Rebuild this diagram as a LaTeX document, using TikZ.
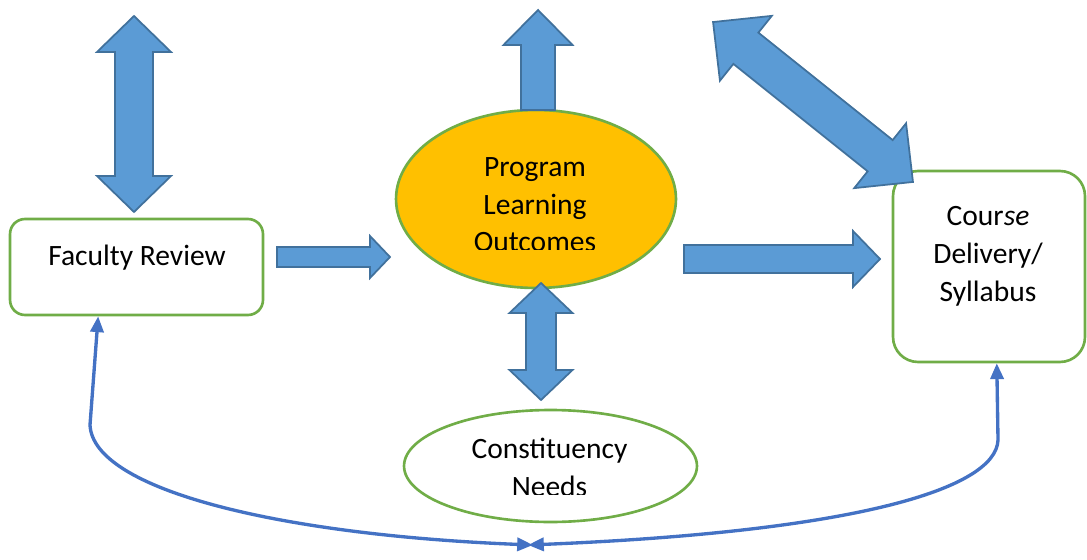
\documentclass[tikz,border=0pt]{standalone}
\usepackage{fontspec}
\setmainfont{Carlito}
\usepackage{tikz}
\usetikzlibrary{shapes.geometric, arrows.meta, calc}

\definecolor{leafgreen}{HTML}{70AD47}
\definecolor{gold}{HTML}{FFC000}
\definecolor{skyblue}{HTML}{5B9BD5}
\definecolor{steelblue}{HTML}{41719C}
\definecolor{loopblue}{HTML}{4472C4}

\tikzstyle{box} = [rectangle, rounded corners=0.3cm, draw=leafgreen, line width=1.5pt, fill=white]
\tikzstyle{oval} = [ellipse, draw=leafgreen, line width=1.5pt, fill=white, inner sep=0pt]
\tikzstyle{txt} = [align=center, anchor=base, inner sep=0pt, font=\fontsize{16.8}{21.5}\selectfont]
\tikzstyle{block} = [draw=steelblue, fill=skyblue, line width=1pt, line join=miter]
\tikzstyle{feedback} = [draw=loopblue, line width=1.9pt, >={Triangle[length=9pt,width=7.5pt]}, <->]

% block arrows: centre, angle, half length, half shaft, half head, head length
\newcommand{\twoway}[6]{%
  \draw[block, shift={#1}, rotate=#2] (-#3,0) -- (-#3+#6,#5) -- (-#3+#6,#4) -- (#3-#6,#4) -- (#3-#6,#5)
    -- (#3,0) -- (#3-#6,-#5) -- (#3-#6,-#4) -- (-#3+#6,-#4) -- (-#3+#6,-#5) -- cycle;}
\newcommand{\oneway}[6]{%
  \draw[block, shift={#1}, rotate=#2] (-#3,#4) -- (#3-#6,#4) -- (#3-#6,#5) -- (#3,0)
    -- (#3-#6,-#5) -- (#3-#6,-#4) -- (-#3,-#4) -- cycle;}

\begin{document}
\begin{tikzpicture}[x=0.02cm, y=-0.02cm]
    \useasboundingbox (0,0) rectangle (1087,560);

    % Nodes (text anchored on the baseline of its last line)
    \node (fr) [box, minimum width=5.06cm, minimum height=1.92cm] at (136.5,267) {};
    \node (frtext) [txt] at (137,265) {Faculty Review};

    \node (plo) [oval, fill=gold, minimum width=5.6cm, minimum height=3.56cm] at (536,199) {};
    \begin{scope}
        \clip (396,100) rectangle (676,250);
        \node (plotext) [txt] at (535,252) {Program\\Learning\\Outcomes};
    \end{scope}

    \node (cd) [box, rounded corners=0.5cm, minimum width=3.84cm, minimum height=3.82cm] at (989,266.5) {};
    \node (cdtext) [txt] at (988,301) {Cour\textit{se}\\Delivery/\\Syllabus};

    \node (cn) [oval, minimum width=5.86cm, minimum height=2.24cm] at (550.5,466) {};
    \begin{scope}
        \clip (404,400) rectangle (697,494);
        \node (cntext) [txt] at (549.5,496) {Constituency\\Needs};
    \end{scope}

    % Block arrows
    \twoway{(134,114)}{90}{98}{19}{37}{36}
    \oneway{(538,60)}{90}{50}{17}{34.5}{35}
    \twoway{(541,341.5)}{90}{58.5}{15}{31.5}{30}
    \oneway{(333.5,257)}{0}{56.5}{10}{21}{20}
    \oneway{(782,259)}{0}{98}{14}{28}{27}
    \twoway{(813,102)}{-38.66}{128}{20}{41.5}{42}

    % Feedback loop
    \coordinate (meet) at (530.5,545);
    \draw [feedback] ([xshift=0.05cm]meet) .. controls (280,535) and (93,490) .. (90,425)
        -- ($(fr.south west)!0.35!(fr.south east)$);
    \draw [feedback] ([xshift=-0.05cm]meet) .. controls (850,532) and (996,490) .. (998,440)
        -- ($(cd.south west)!0.54!(cd.south east)$);
\end{tikzpicture}
\end{document}
